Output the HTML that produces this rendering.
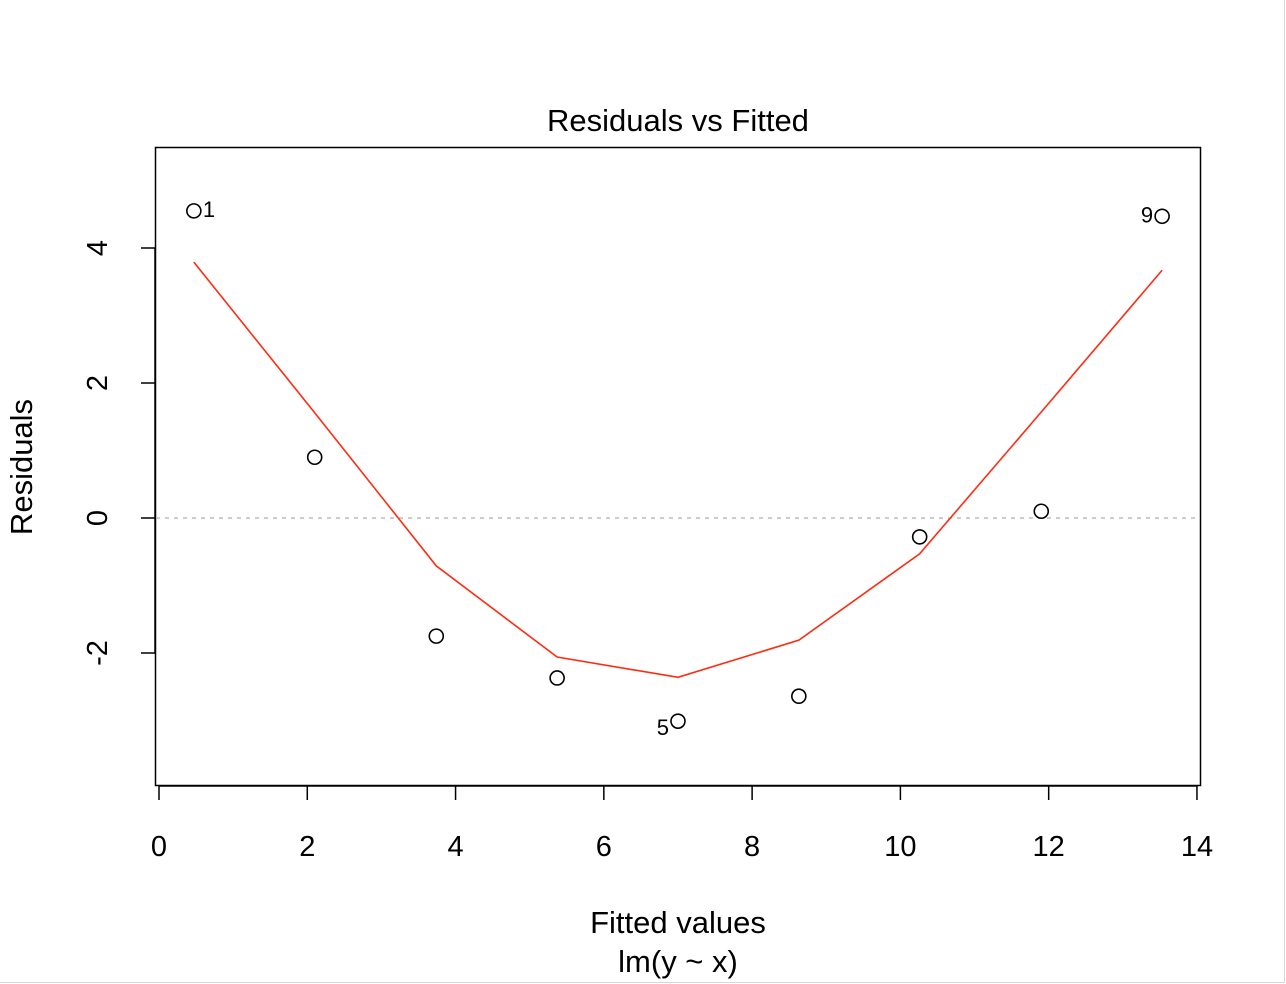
<!DOCTYPE html>
<html><head><meta charset="utf-8"><style>
html,body{margin:0;padding:0;background:#fff;}
svg{display:block;font-family:"Liberation Sans",Arial,sans-serif;}
</style></head><body>
<svg width="1286" height="984">
<line x1="1284.5" y1="0" x2="1284.5" y2="983" stroke="#d8d8d8"/>
<line x1="0" y1="982.5" x2="1285" y2="982.5" stroke="#d8d8d8"/>
<text x="678" y="131" font-size="31" text-anchor="middle">Residuals vs Fitted</text>
<rect x="155.5" y="147.5" width="1045" height="638" fill="none" stroke="#000" stroke-width="1.5"/>
<g id="xaxis"></g>
<g id="yaxis"></g>
<line id="zero" stroke="#bbb" stroke-width="1.5" stroke-dasharray="4,5"/>
<polyline id="smooth" fill="none" stroke="#ff2a10" stroke-width="1.6"/>
<g id="pts"></g>
<text x="678" y="933" font-size="31" text-anchor="middle">Fitted values</text>
<text x="678" y="972" font-size="31" text-anchor="middle">lm(y ~ x)</text>
<text transform="translate(32,467) rotate(-90)" font-size="31" text-anchor="middle">Residuals</text>
</svg>
<script>
const fitted=[0.47,2.10,3.74,5.37,7.00,8.63,10.26,11.90,13.53];
const residuals=[4.55,0.90,-1.75,-2.37,-3.01,-2.64,-0.28,0.10,4.47];
const smoothY=[3.79,1.56,-0.71,-2.06,-2.36,-1.81,-0.53,1.57,3.67];
const xTicks=[0,2,4,6,8,10,12,14];
const yTicks=[-2,0,2,4];
const labels=[{i:0,t:"1",side:"r"},{i:4,t:"5",side:"l"},{i:8,t:"9",side:"l"}];
const NS="http://www.w3.org/2000/svg";
const X=v=>159+v*74.14, Y=v=>518-v*67.5;
function mk(tag,attrs,parent,txt){const e=document.createElementNS(NS,tag);for(const k in attrs)e.setAttribute(k,attrs[k]);if(txt!==undefined)e.textContent=txt;parent.appendChild(e);return e;}
const xa=document.getElementById('xaxis'),ya=document.getElementById('yaxis');
mk('line',{x1:X(0),x2:X(14),y1:786,y2:786,stroke:'#000','stroke-width':1.5},xa);
xTicks.forEach(t=>{const l=mk('line',{x1:X(t),x2:X(t),y1:786,y2:800,stroke:'#000','stroke-width':1.5},xa);


const s=mk('text',{x:X(t),y:856,'font-size':29,'text-anchor':'middle'},xa,String(t));

});
mk('line',{x1:155,x2:155,y1:Y(-2),y2:Y(4),stroke:'#000','stroke-width':1.5},ya);
yTicks.forEach(t=>{const l=mk('line',{x1:141,x2:155,y1:Y(t),y2:Y(t),stroke:'#000','stroke-width':1.5},ya);


const s=mk('text',{transform:`translate(107,${Y(t)}) rotate(-90)`,'font-size':29,'text-anchor':'middle'},ya,t<0?'-'+Math.abs(t):String(t));

});
const z=document.getElementById('zero');z.setAttribute('x1',156);z.setAttribute('x2',1200);z.setAttribute('y1',Y(0));z.setAttribute('y2',Y(0));
document.getElementById('smooth').setAttribute('points',fitted.map((f,i)=>X(f)+','+Y(smoothY[i])).join(' '));
const pg=document.getElementById('pts');
fitted.forEach((f,i)=>{const c=mk('circle',{cx:X(f),cy:Y(residuals[i]),r:7,fill:'none',stroke:'#000','stroke-width':1.6},pg);

});
labels.forEach(o=>{const x=X(fitted[o.i]),y=Y(residuals[o.i]);
const t=mk('text',{x:o.side==='r'?x+9:x-9,y:y+(o.i===4?14:6),'font-size':22,'text-anchor':o.side==='r'?'start':'end'},pg,o.t);

});
</script>
</body></html>
